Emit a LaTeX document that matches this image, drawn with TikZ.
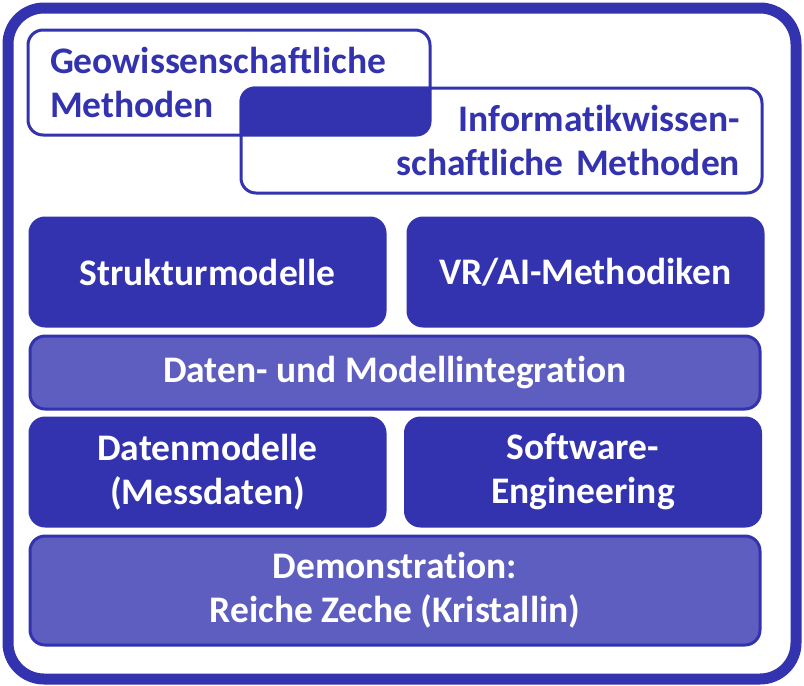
\documentclass[tikz,border=0pt]{standalone}
\usepackage{fontspec}
\setmainfont[Ligatures=NoCommon]{Carlito}
\usetikzlibrary{positioning}
\definecolor{dunkelblau}{RGB}{51,51,175}
\definecolor{hellblau}{RGB}{94,94,192}

\begin{document}
\begin{tikzpicture}[x=1pt, y=-1pt,
        schrift/.style={font=\bfseries\fontsize{37.5}{44}\selectfont},
        dunkelbox/.style={schrift, draw=dunkelblau, fill=dunkelblau, line width=3pt,
            rounded corners=15pt, text=white, align=center, inner sep=0pt,
            minimum width=355pt, minimum height=108pt},
        hellbox/.style={dunkelbox, fill=hellblau, minimum width=730pt},
        weissbox/.style={schrift, draw=dunkelblau, fill=white, line width=3pt,
            rounded corners=15pt, text=dunkelblau, inner sep=0pt,
            minimum height=105pt}]
        \useasboundingbox (0,0) rectangle (804,686);

        % Rahmen
        \draw[dunkelblau, line width=11pt, rounded corners=36pt] (8,8) rectangle (796,679);

        % Methoden (ueberlappend)
        \node[weissbox, minimum width=402pt, text width=358pt, align=left]
            (geo) at (229,82.5) {Geowissenschaftliche\\Methoden};
        \node[weissbox, minimum width=521pt, text width=477pt, align=right]
            (info) at (501.5,140.5) {Informatikwissen-\\schaftliche Methoden};
        \begin{scope}
            \clip[rounded corners=15pt] (geo.north west) rectangle (geo.south east);
            \fill[dunkelblau, rounded corners=15pt] (info.north west) rectangle (info.south east);
        \end{scope}

        % Bausteine
        \node[dunkelbox] (struktur) at (207.5,272) {Strukturmodelle};
        \node[dunkelbox] (vrai) at (585.5,272) {VR/AI-Methodiken};
        \node[hellbox, minimum height=73pt] (integration) at (395,372.5) {Daten- und Modellintegration};
        \node[dunkelbox] (datenmod) at (207.5,472) {Datenmodelle\\(Messdaten)};
        \node[dunkelbox] (software) at (583,472) {Software-\\Engineering};
        \node[hellbox, minimum height=109pt] (demo) at (395,590.5) {Demonstration:\\Reiche Zeche (Kristallin)};
\end{tikzpicture}
\end{document}
